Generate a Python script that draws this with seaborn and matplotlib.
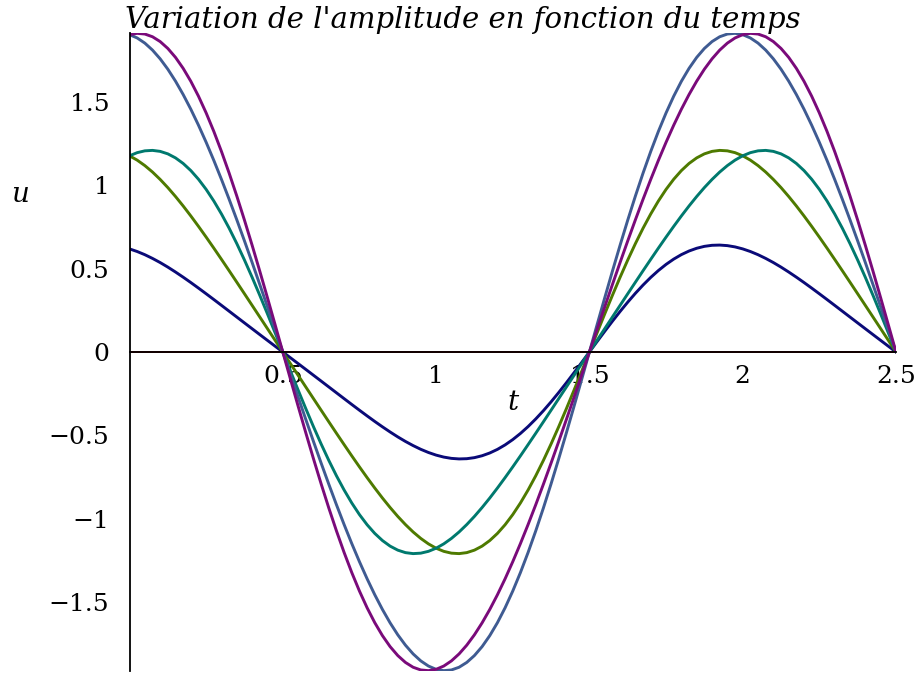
import numpy as np
import pandas as pd
import matplotlib
matplotlib.use("Agg")
import matplotlib.pyplot as plt
import seaborn as sns
from matplotlib.ticker import MultipleLocator, FixedLocator

# Sampling instants (s), every 0.025 s from 0 to 2.5
t = [0.000, 0.025, 0.050, 0.075, 0.100, 0.125, 0.150, 0.175, 0.200, 0.225,
     0.250, 0.275, 0.300, 0.325, 0.350, 0.375, 0.400, 0.425, 0.450, 0.475,
     0.500, 0.525, 0.550, 0.575, 0.600, 0.625, 0.650, 0.675, 0.700, 0.725,
     0.750, 0.775, 0.800, 0.825, 0.850, 0.875, 0.900, 0.925, 0.950, 0.975,
     1.000, 1.025, 1.050, 1.075, 1.100, 1.125, 1.150, 1.175, 1.200, 1.225,
     1.250, 1.275, 1.300, 1.325, 1.350, 1.375, 1.400, 1.425, 1.450, 1.475,
     1.500, 1.525, 1.550, 1.575, 1.600, 1.625, 1.650, 1.675, 1.700, 1.725,
     1.750, 1.775, 1.800, 1.825, 1.850, 1.875, 1.900, 1.925, 1.950, 1.975,
     2.000, 2.025, 2.050, 2.075, 2.100, 2.125, 2.150, 2.175, 2.200, 2.225,
     2.250, 2.275, 2.300, 2.325, 2.350, 2.375, 2.400, 2.425, 2.450, 2.475,
     2.500]

# Amplitude u(t) at several points of the string
u_bord = [0.0] * len(t)

u_marine = [
    0.618, 0.6023, 0.5832, 0.5609, 0.5361, 0.5088, 0.4794, 0.4485, 0.4163, 0.3830,
    0.3490, 0.3145, 0.2796, 0.2445, 0.2094, 0.1743, 0.1393, 0.1043, 0.0695, 0.0347,
    0.0,
    -0.0347, -0.0695, -0.1043, -0.1393, -0.1743, -0.2094, -0.2445, -0.2796, -0.3145, -0.3490,
    -0.3830, -0.4163, -0.4485, -0.4794, -0.5088, -0.5361, -0.5609, -0.5832, -0.6023, -0.618,
    -0.6299, -0.6376, -0.6409, -0.6395, -0.6332, -0.6218, -0.6053, -0.5837, -0.5568, -0.5250,
    -0.4883, -0.4470, -0.4013, -0.3518, -0.2987, -0.2427, -0.1843, -0.1239, -0.0623, 0.0,
    0.0623, 0.1239, 0.1843, 0.2427, 0.2987, 0.3518, 0.4013, 0.4470, 0.4883, 0.5250,
    0.5568, 0.5837, 0.6053, 0.6218, 0.6332, 0.6395, 0.6409, 0.6376, 0.6299, 0.618,
    0.6023, 0.5832, 0.5609, 0.5361, 0.5088, 0.4794, 0.4485, 0.4163, 0.3830, 0.3490,
    0.3145, 0.2796, 0.2445, 0.2094, 0.1743, 0.1393, 0.1043, 0.0695, 0.0347, 0.0]

u_vert = [
    1.176, 1.1500, 1.1173, 1.0786, 1.0343, 0.9854, 0.9321, 0.8753, 0.8154, 0.7530,
    0.6886, 0.6226, 0.5552, 0.4871, 0.4182, 0.3489, 0.2793, 0.2096, 0.1398, 0.0699,
    0.0,
    -0.0699, -0.1398, -0.2096, -0.2793, -0.3489, -0.4182, -0.4871, -0.5552, -0.6226, -0.6886,
    -0.7530, -0.8154, -0.8753, -0.9321, -0.9854, -1.0343, -1.0786, -1.1173, -1.1500, -1.176,
    -1.1948, -1.2057, -1.2084, -1.2025, -1.1876, -1.1635, -1.1301, -1.0874, -1.0354, -0.9746,
    -0.9050, -0.8272, -0.7419, -0.6496, -0.5511, -0.4475, -0.3394, -0.2282, -0.1147, 0.0,
    0.1147, 0.2282, 0.3394, 0.4475, 0.5511, 0.6496, 0.7419, 0.8272, 0.9050, 0.9746,
    1.0354, 1.0874, 1.1301, 1.1635, 1.1876, 1.2025, 1.2084, 1.2057, 1.1948, 1.176,
    1.1500, 1.1173, 1.0786, 1.0343, 0.9854, 0.9321, 0.8753, 0.8154, 0.7530, 0.6886,
    0.6226, 0.5552, 0.4871, 0.4182, 0.3489, 0.2793, 0.2096, 0.1398, 0.0699, 0.0]

u_sarcelle = [
    1.176, 1.1948, 1.2057, 1.2084, 1.2025, 1.1876, 1.1635, 1.1301, 1.0874, 1.0354,
    0.9746, 0.9050, 0.8272, 0.7419, 0.6496, 0.5511, 0.4475, 0.3394, 0.2282, 0.1147,
    0.0,
    -0.1147, -0.2282, -0.3394, -0.4475, -0.5511, -0.6496, -0.7419, -0.8272, -0.9050, -0.9746,
    -1.0354, -1.0874, -1.1301, -1.1635, -1.1876, -1.2025, -1.2084, -1.2057, -1.1948, -1.176,
    -1.1500, -1.1173, -1.0786, -1.0343, -0.9854, -0.9321, -0.8753, -0.8154, -0.7530, -0.6886,
    -0.6226, -0.5552, -0.4871, -0.4182, -0.3489, -0.2793, -0.2096, -0.1398, -0.0699, 0.0,
    0.0699, 0.1398, 0.2096, 0.2793, 0.3489, 0.4182, 0.4871, 0.5552, 0.6226, 0.6886,
    0.7530, 0.8154, 0.8753, 0.9321, 0.9854, 1.0343, 1.0786, 1.1173, 1.1500, 1.176,
    1.1948, 1.2057, 1.2084, 1.2025, 1.1876, 1.1635, 1.1301, 1.0874, 1.0354, 0.9746,
    0.9050, 0.8272, 0.7419, 0.6496, 0.5511, 0.4475, 0.3394, 0.2282, 0.1147, 0.0]

u_ardoise = [
    1.902, 1.8823, 1.8514, 1.8095, 1.7572, 1.6950, 1.6235, 1.5433, 1.4551, 1.3594,
    1.2569, 1.1484, 1.0343, 0.9154, 0.7923, 0.6657, 0.5361, 0.4040, 0.2703, 0.1354,
    0.0,
    -0.1354, -0.2703, -0.4040, -0.5361, -0.6657, -0.7923, -0.9154, -1.0343, -1.1484, -1.2569,
    -1.3594, -1.4551, -1.5433, -1.6235, -1.6950, -1.7572, -1.8095, -1.8514, -1.8823, -1.902,
    -1.9099, -1.9058, -1.8895, -1.8606, -1.8194, -1.7659, -1.7001, -1.6225, -1.5332, -1.4329,
    -1.3222, -1.2017, -1.0722, -0.9347, -0.7901, -0.6395, -0.4840, -0.3247, -0.1630, 0.0,
    0.1630, 0.3247, 0.4840, 0.6395, 0.7901, 0.9347, 1.0722, 1.2017, 1.3222, 1.4329,
    1.5332, 1.6225, 1.7001, 1.7659, 1.8194, 1.8606, 1.8895, 1.9058, 1.9099, 1.902,
    1.8823, 1.8514, 1.8095, 1.7572, 1.6950, 1.6235, 1.5433, 1.4551, 1.3594, 1.2569,
    1.1484, 1.0343, 0.9154, 0.7923, 0.6657, 0.5361, 0.4040, 0.2703, 0.1354, 0.0]

u_violet = [
    1.902, 1.9099, 1.9058, 1.8895, 1.8606, 1.8194, 1.7659, 1.7001, 1.6225, 1.5332,
    1.4329, 1.3222, 1.2017, 1.0722, 0.9347, 0.7901, 0.6395, 0.4840, 0.3247, 0.1630,
    0.0,
    -0.1630, -0.3247, -0.4840, -0.6395, -0.7901, -0.9347, -1.0722, -1.2017, -1.3222, -1.4329,
    -1.5332, -1.6225, -1.7001, -1.7659, -1.8194, -1.8606, -1.8895, -1.9058, -1.9099, -1.902,
    -1.8823, -1.8514, -1.8095, -1.7572, -1.6950, -1.6235, -1.5433, -1.4551, -1.3594, -1.2569,
    -1.1484, -1.0343, -0.9154, -0.7923, -0.6657, -0.5361, -0.4040, -0.2703, -0.1354, 0.0,
    0.1354, 0.2703, 0.4040, 0.5361, 0.6657, 0.7923, 0.9154, 1.0343, 1.1484, 1.2569,
    1.3594, 1.4551, 1.5433, 1.6235, 1.6950, 1.7572, 1.8095, 1.8514, 1.8823, 1.902,
    1.9099, 1.9058, 1.8895, 1.8606, 1.8194, 1.7659, 1.7001, 1.6225, 1.5332, 1.4329,
    1.3222, 1.2017, 1.0722, 0.9347, 0.7901, 0.6395, 0.4840, 0.3247, 0.1630, 0.0]

courbes = ["bord", "marine", "vert", "sarcelle", "ardoise", "violet"]
series = [u_bord, u_marine, u_vert, u_sarcelle, u_ardoise, u_violet]
couleurs = {"bord": "#c00000", "marine": "#0a0a78", "vert": "#4e7a00",
            "sarcelle": "#00796e", "ardoise": "#3f5b92", "violet": "#7a0a7a"}

x_ticks = [0.5, 1, 1.5, 2, 2.5]
x_labels = ["0.5", "1", "1.5", "2", "2.5"]
y_ticks = [-1.5, -1, -0.5, 0, 0.5, 1, 1.5]
y_labels = ["\u22121.5", "\u22121", "\u22120.5", "0", "0.5", "1", "1.5"]

df = pd.concat(
    [pd.DataFrame({"t": t, "u": s, "courbe": c}) for c, s in zip(courbes, series)],
    ignore_index=True,
)

sns.set_style("white")
plt.rcParams["text.color"] = "black"
serif = ["DejaVu Serif"]

W, H = 921, 673
fig = plt.figure(figsize=(W / 100, H / 100), dpi=100)
ax = fig.add_axes([129.5 / W, 2 / H, (896 - 129.5) / W, (671 - 33) / H])

sns.lineplot(data=df, x="t", y="u", hue="courbe", hue_order=courbes,
             palette=couleurs, estimator=None, sort=False, legend=False,
             linewidth=2.1, ax=ax)
# the edge curve lies on the axis: keep it thin
ax.lines[0].set_linewidth(1.4)

ax.set_xlim(0, 2.5)
ax.set_ylim(-1.912, 1.912)

for side in ("top", "right"):
    ax.spines[side].set_visible(False)
ax.spines["bottom"].set_position(("data", 0))
ax.spines["left"].set_position(("data", 0))
for side in ("bottom", "left"):
    ax.spines[side].set_linewidth(1.3)
    ax.spines[side].set_color("black")
    ax.spines[side].set_zorder(5)

ax.xaxis.set_major_locator(FixedLocator(x_ticks))
ax.set_xticklabels(x_labels)
ax.yaxis.set_major_locator(FixedLocator(y_ticks))
ax.set_yticklabels(y_labels)
ax.xaxis.set_minor_locator(MultipleLocator(0.1))
ax.yaxis.set_minor_locator(MultipleLocator(0.1))

ax.tick_params(axis="both", which="major", direction="out", length=6.5,
               width=0.9, color="#333333", labelsize=18, labelcolor="black")
ax.tick_params(axis="both", which="minor", direction="out", length=3.5,
               width=0.8, color="#333333")
ax.tick_params(axis="x", which="major", pad=3)
ax.tick_params(axis="y", which="major", pad=8)
for lab in ax.get_xticklabels() + ax.get_yticklabels():
    lab.set_family(serif)

ax.set_xlabel("")
ax.set_ylabel("")
ax.grid(False)

fig.text(463 / W, 1 - 28 / H, "Variation de l'amplitude en fonction du temps",
         ha="center", va="baseline", family=serif, style="italic",
         fontsize=21, color="black")
fig.text(20 / W, 1 - 194 / H, "u", ha="center", va="center",
         family=serif, style="italic", fontsize=20, color="black")
fig.text(513 / W, 1 - 403 / H, "t", ha="center", va="center",
         family=serif, style="italic", fontsize=20, color="black")

fig.savefig("out.png", dpi=100)
